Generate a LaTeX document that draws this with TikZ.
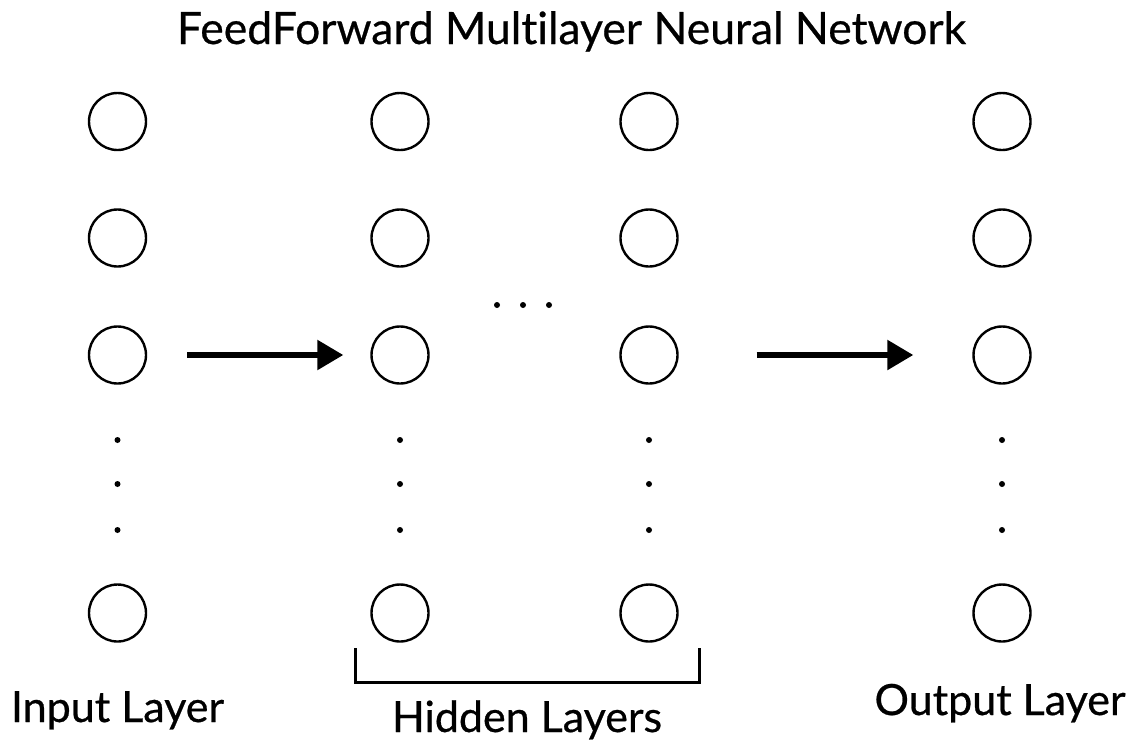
\documentclass[tikz,border=0pt]{standalone}
\usepackage{fontspec}
\setmainfont{Lato}[FakeBold=0.6,Ligatures=NoCommon]
\usetikzlibrary{arrows.meta}
\begin{document}
\begin{tikzpicture}[x=1pt,y=-1pt,
  neuron/.style={circle,draw,line width=2.4pt,minimum size=57pt,inner sep=0pt},
  bigarrow/.style={line width=5.5pt,-{Triangle[length=26pt,width=29pt]}},
  vdot/.style={fill=black},
  lbl/.style={font=\fontsize{43}{50}\selectfont,anchor=base},
  ttl/.style={font=\fontsize{44.5}{52}\selectfont,anchor=base}]
\useasboundingbox (0,0) rectangle (1142,748);
\node[ttl] (title) at (571.5,44) {FeedForward Multilayer Neural Network};
% columns
\foreach \c/\x in {i/117.5,a/400,b/649,o/1002}{
  \node[neuron] (\c1) at (\x,121.5) {};
  \node[neuron] (\c2) at (\x,238) {};
  \node[neuron] (\c3) at (\x,355) {};
  \node[neuron] (\c4) at (\x,613) {};
  \foreach \y in {440,484,530}{ \fill[vdot] (\x,\y) circle (3pt); }
}
\foreach \x in {497,523,549}{ \fill[vdot] (\x,305) circle (3pt); }
\draw[bigarrow,shorten <=40pt,shorten >=27pt] (i3.east) -- (a3.west);
\draw[bigarrow,shorten <=78pt,shorten >=59pt] (b3.east) -- (o3.west);
\draw[line width=3pt] (355,648) -- (355,682) -- (699,682) -- (699,648);
\node[lbl] (inl) at (117.5,722) {Input Layer};
\node[lbl] (hid) at (527,732) {Hidden Layers};
\node[lbl] (outl) at (1000,715) {Output Layer};
\end{tikzpicture}
\end{document}
